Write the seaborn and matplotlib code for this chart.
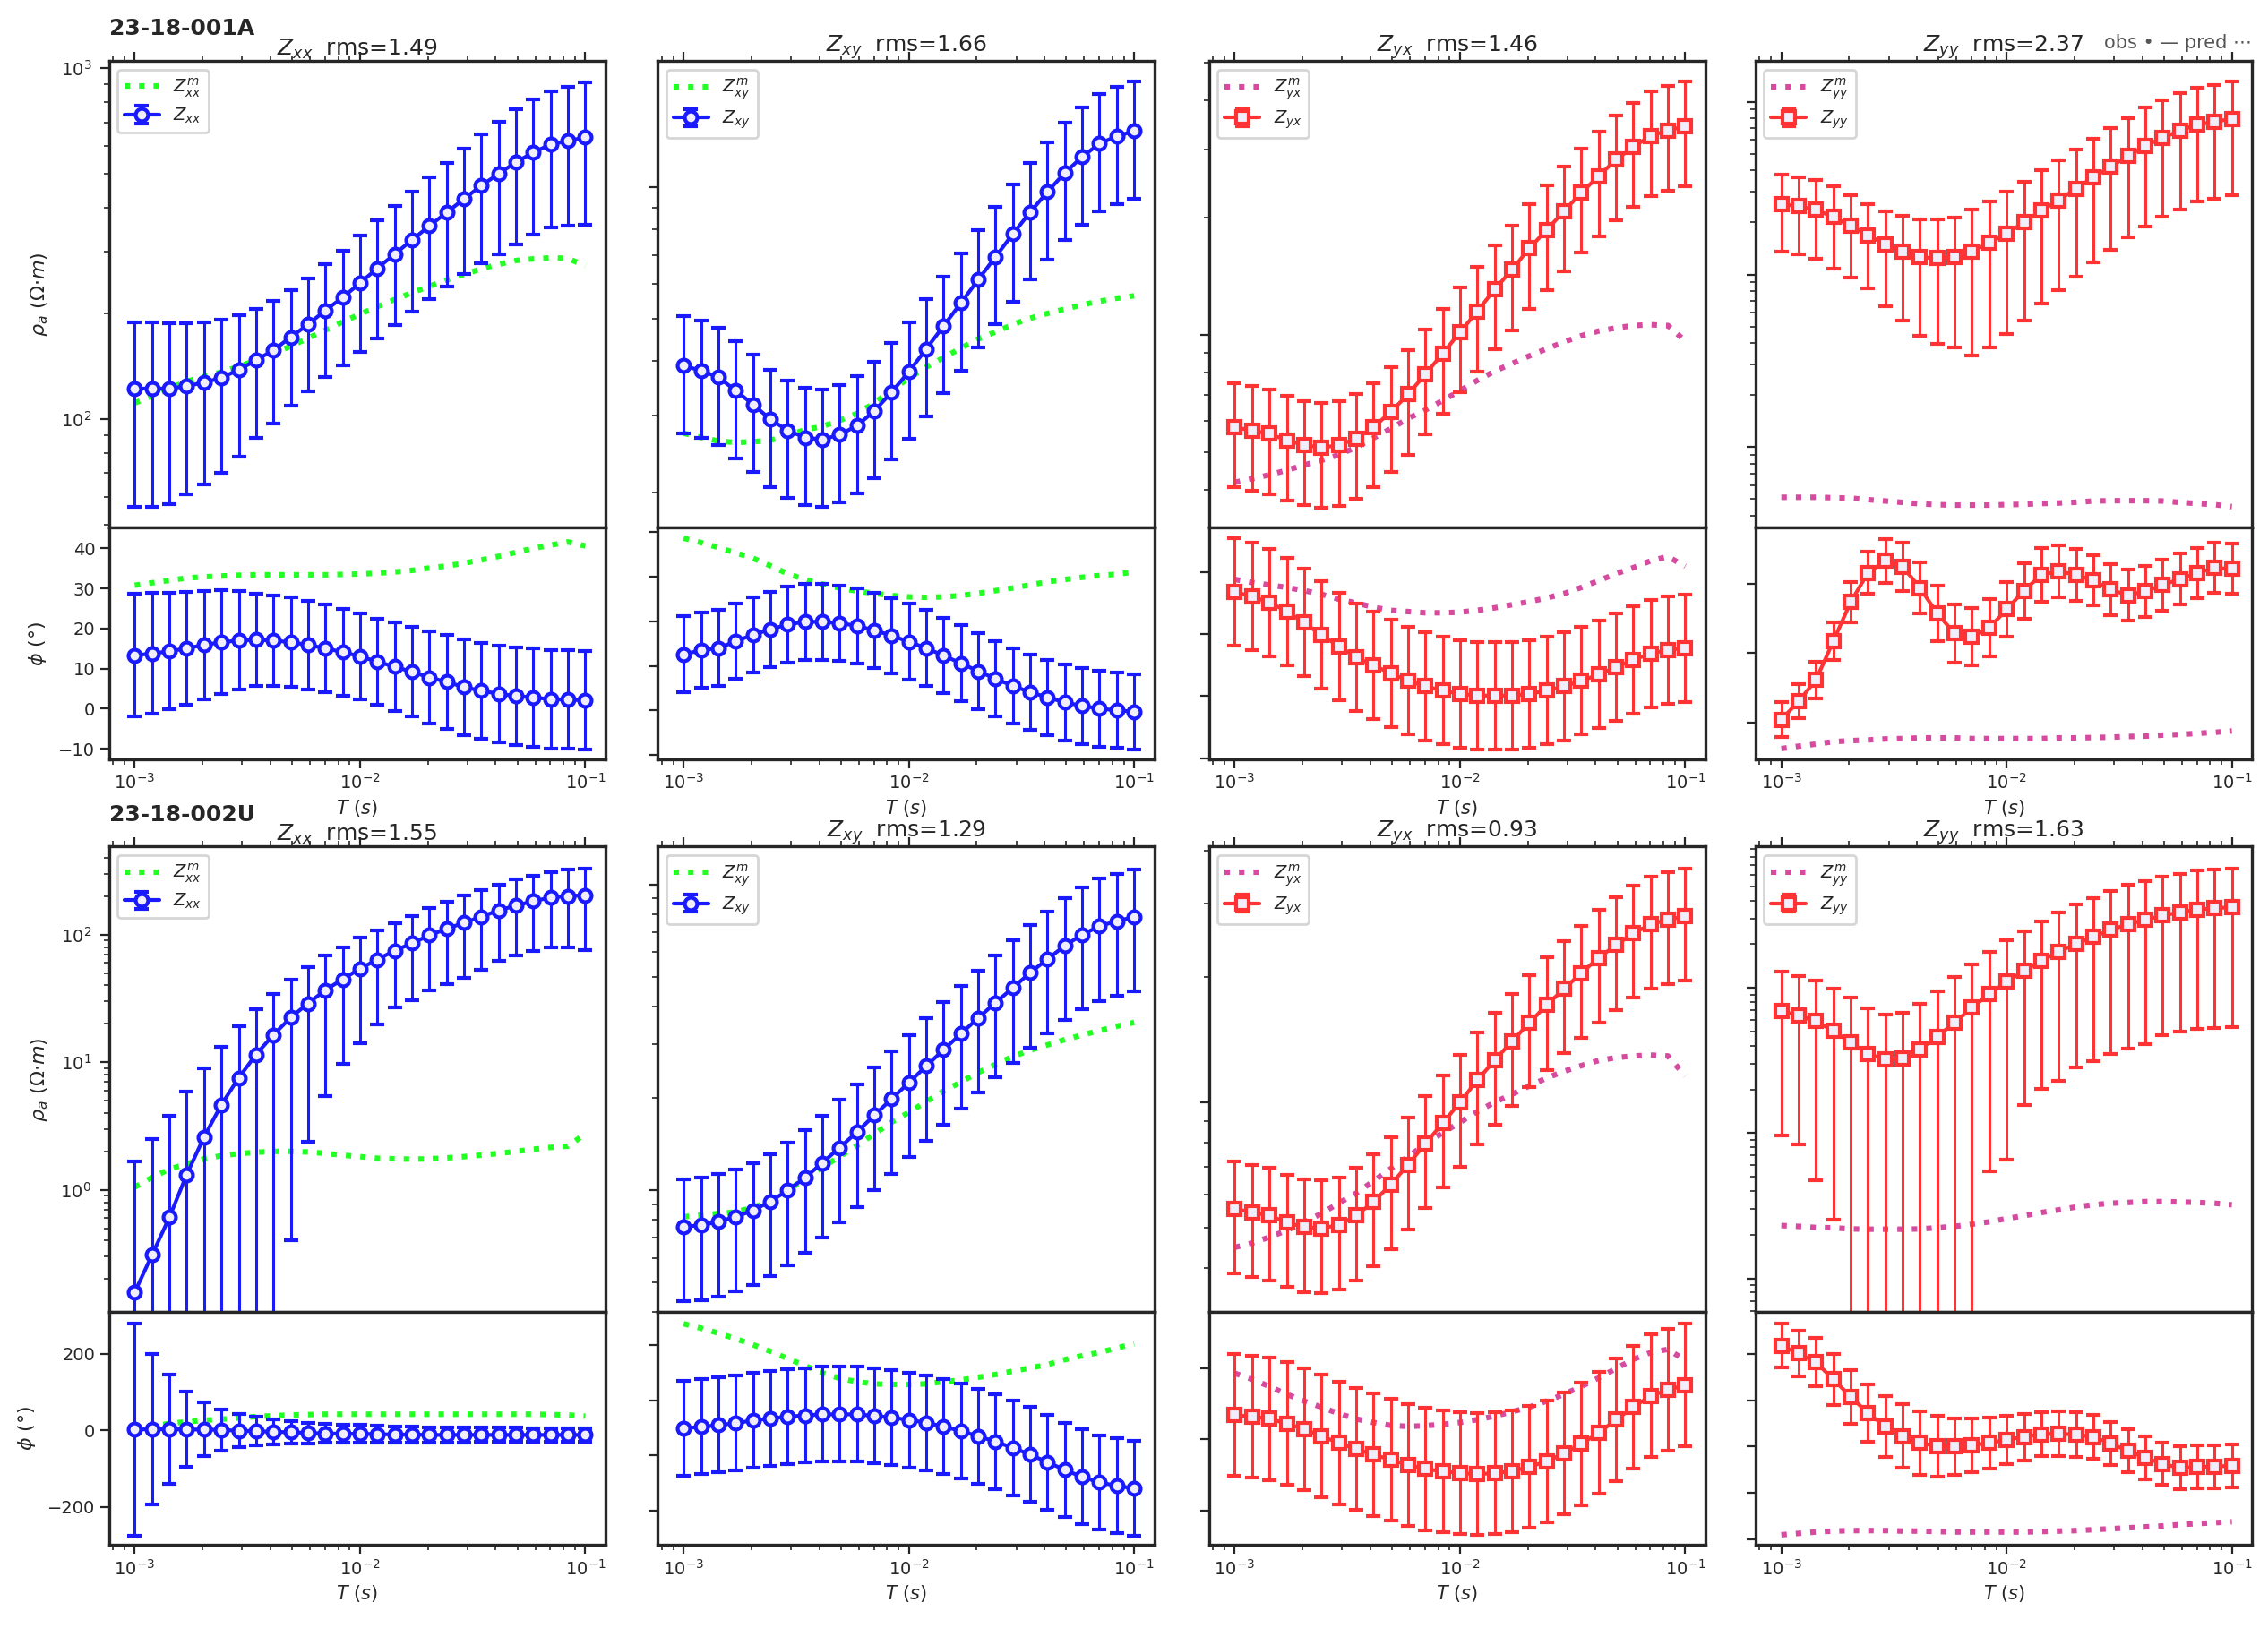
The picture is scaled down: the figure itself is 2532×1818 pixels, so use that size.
import numpy as np
import matplotlib
matplotlib.use("Agg")
import matplotlib.pyplot as plt
import seaborn as sns

# periods: 27 points, 1 ms .. 100 ms
PERIODS = np.logspace(-3, -1, 27)
COMPONENTS = ["xx", "xy", "yx", "yy"]
STATIONS = ["23-18-001A", "23-18-002U"]
RMS_A = [1.49, 1.66, 1.46, 2.37]
RMS_U = [1.55, 1.29, 0.93, 1.63]

# ---------------- station 23-18-001A ----------------
A_XX_RHO = [122, 122, 122, 124, 127, 131, 138, 147, 157, 171, 186, 204, 222, 244, 269, 295, 324, 355, 388, 424, 463, 500, 540, 575, 607, 621, 635]
A_XX_RHO_ERR = [66, 66, 65, 63, 62, 61, 60, 59, 60, 62, 66, 72, 80, 89, 99, 110, 122, 135, 150, 165, 185, 205, 225, 240, 255, 265, 277]
A_XX_RHO_PRED = [111, 116, 122, 128, 132, 136, 141, 147, 154, 161, 170, 179, 189, 199, 209, 219, 229, 239, 249, 258, 268, 276, 283, 286, 288, 287, 273]
A_XX_PHI = [13.3, 13.8, 14.3, 15.1, 15.9, 16.6, 17.0, 17.2, 17.0, 16.6, 15.9, 15.1, 14.1, 13.1, 11.7, 10.5, 9.2, 7.8, 6.7, 5.4, 4.5, 3.7, 3.2, 2.8, 2.4, 2.3, 2.1]
A_XX_PHI_ERR = [15.3, 15, 14.5, 14, 13.5, 13, 12.3, 11.5, 11.3, 11.1, 11, 10.9, 10.8, 10.7, 10.8, 11, 11.2, 11.5, 11.7, 11.9, 12, 12.1, 12.2, 12.2, 12.3, 12.3, 12.3]
A_XX_PHI_PRED = [30.8, 31.4, 32.0, 32.6, 32.9, 33.1, 33.3, 33.4, 33.4, 33.4, 33.4, 33.4, 33.5, 33.6, 33.8, 34.1, 34.5, 35.1, 35.6, 36.3, 37.1, 38.0, 39.0, 40.0, 40.8, 41.6, 40.6]

A_XY_RHO = [39.0, 38.0, 36.7, 34.2, 31.8, 29.4, 27.7, 26.7, 26.4, 27.1, 28.4, 30.7, 33.9, 37.8, 42.6, 48.1, 54.3, 61.4, 69.3, 78.2, 87.7, 97.7, 108, 117.5, 126, 131, 134.6]
A_XY_RHO_ERR = 0.3
A_XY_RHO_PRED = [27.3, 26.7, 26.2, 26.0, 26.1, 26.3, 27.0, 27.8, 28.3, 29.2, 30.3, 32.0, 34.3, 36.5, 38.7, 40.7, 42.8, 44.9, 46.6, 48.5, 50.1, 51.4, 52.6, 53.8, 54.8, 55.7, 56.4]
A_XY_PHI = [12.6, 13.5, 14.0, 15.5, 17.0, 18.2, 19.3, 19.9, 19.9, 19.6, 19.0, 18.0, 16.8, 15.4, 14.0, 12.3, 10.6, 8.8, 7.1, 5.5, 4.1, 2.9, 1.8, 1.0, 0.4, 0.0, -0.3]
A_XY_PHI_ERR = 8.5
A_XY_PHI_PRED = [38.7, 37.7, 36.6, 35.4, 34.2, 32.5, 30.7, 29.4, 28.4, 27.5, 26.8, 26.3, 25.8, 25.5, 25.4, 25.5, 25.8, 26.3, 26.9, 27.5, 28.2, 28.9, 29.4, 29.9, 30.3, 30.6, 31.1]

A_YX_RHO = [57.9, 56.8, 55.7, 53.6, 52.1, 51.4, 52.0, 54.2, 57.9, 63.4, 70.3, 79.3, 89.6, 101.6, 115, 131, 147, 167, 186, 208, 232, 256, 282, 304, 325, 335, 344]
A_YX_RHO_ERR = 0.3
A_YX_RHO_PRED = [41.8, 42.7, 43.7, 44.9, 46.3, 47.6, 49.2, 51.4, 54.3, 57.4, 61.0, 64.1, 67.8, 71.9, 76.4, 80.7, 84.4, 88.3, 92.1, 95.9, 99.5, 102.3, 104.2, 105.7, 106.2, 105.7, 96.4]
A_YX_PHI = [26.9, 26.1, 25.2, 23.7, 21.9, 19.9, 18.1, 16.3, 15.0, 13.7, 12.5, 11.6, 10.9, 10.4, 10.1, 10.1, 10.1, 10.4, 10.9, 11.6, 12.5, 13.5, 14.7, 15.9, 16.9, 17.5, 17.8]
A_YX_PHI_ERR = 8.7
A_YX_PHI_PRED = [28.9, 28.4, 28.0, 27.6, 27.1, 26.5, 25.7, 25.1, 24.4, 23.9, 23.7, 23.5, 23.5, 23.6, 23.9, 24.3, 24.8, 25.3, 25.9, 26.6, 27.6, 28.7, 29.8, 30.8, 31.9, 32.6, 31.0]

A_YY_RHO = [256, 248, 237, 215, 191, 169, 149, 136, 126, 124, 126, 136, 152, 173, 200, 235, 269, 314, 365, 421, 484, 556, 617, 681, 738, 766, 796]
A_YY_RHO_ERR = [.47, .47, .48, .5, .5, .51, .56, .6, .65, .68, .7, .75, .75, .74, .73, .71, .7, .69, .68, .67, .66, .66, .65, .65, .64, .64, .64]
A_YY_RHO_PRED = [5.13, 5.13, 5.13, 5.10, 5.07, 4.97, 4.88, 4.79, 4.70, 4.65, 4.62, 4.62, 4.62, 4.65, 4.67, 4.72, 4.75, 4.80, 4.88, 4.90, 4.90, 4.90, 4.88, 4.79, 4.72, 4.65, 4.53]
A_YY_PHI = [0.8, 6.1, 12.3, 23.5, 34.8, 43.3, 46.7, 45.1, 38.9, 31.5, 25.7, 24.7, 27.3, 32.7, 38.1, 42.7, 43.7, 42.7, 41.1, 38.4, 36.8, 37.9, 39.7, 41.5, 43.2, 44.7, 44.4]
A_YY_PHI_ERR = [5, 5, 5.3, 5.5, 5.8, 6, 6.4, 7, 7.5, 8, 8.3, 8.3, 8.3, 8, 8, 7.7, 7.5, 7.5, 7.3, 7.3, 7.3, 7.3, 7.3, 7.3, 7.3, 7.3, 7.3]
A_YY_PHI_PRED = [-7.6, -6.9, -6.3, -5.6, -5.3, -5.1, -4.8, -4.7, -4.5, -4.5, -4.5, -4.7, -4.7, -4.7, -4.7, -4.7, -4.5, -4.5, -4.4, -4.3, -4.1, -4.0, -3.7, -3.5, -3.2, -2.9, -2.5]

# ---------------- station 23-18-002U ----------------
U_XX_RHO = [0.158, 0.31, 0.61, 1.32, 2.6, 4.65, 7.55, 11.5, 16.4, 22.4, 28.9, 36.8, 44.7, 54.2, 63.7, 75, 85.5, 98.8, 111, 124, 138, 155, 169, 183, 195, 201, 203]
U_XX_RHO_ERR = [1.52, 2.2, 3.2, 4.6, 6.4, 8.5, 11.5, 14.5, 18, 22, 26.5, 31.4, 35, 40, 44, 48, 55, 62, 70, 78, 85, 93, 100, 108, 115, 122, 127]
U_XX_RHO_PRED = [1.05, 1.25, 1.45, 1.6, 1.75, 1.85, 1.92, 1.97, 2.0, 2.0, 1.98, 1.93, 1.87, 1.82, 1.77, 1.75, 1.74, 1.75, 1.78, 1.82, 1.87, 1.93, 2.0, 2.08, 2.15, 2.2, 2.75]
U_XX_PHI = [2, 3, 3, 2, 2, 1, -1, -2, -4, -5, -7, -8, -9, -9, -10, -11, -11, -12, -12, -12, -12, -12, -12, -12, -12, -12, -12]
U_XX_PHI_ERR = [276, 197, 142, 98, 70, 54, 43, 37, 32, 29, 27, 25, 24, 23, 22, 21, 21, 20, 20, 20, 19, 19, 19, 18, 18, 18, 18]
U_XX_PHI_PRED = [2, 10, 18, 22, 26, 29, 32, 36, 38, 40, 41, 42, 42, 42, 42, 42, 42, 42, 42, 42, 42, 42, 42, 42, 41, 40, 37]

U_XY_RHO = [0.76, 0.77, 0.79, 0.82, 0.86, 0.92, 1.0, 1.10, 1.23, 1.38, 1.55, 1.76, 1.99, 2.25, 2.55, 2.88, 3.25, 3.66, 4.11, 4.59, 5.15, 5.70, 6.31, 6.85, 7.31, 7.59, 7.83]
U_XY_RHO_ERR = 0.43
U_XY_RHO_PRED = [0.82, 0.83, 0.84, 0.85, 0.88, 0.92, 1.0, 1.09, 1.19, 1.29, 1.40, 1.53, 1.67, 1.80, 1.95, 2.11, 2.26, 2.43, 2.58, 2.74, 2.87, 2.99, 3.11, 3.22, 3.33, 3.44, 3.54]
U_XY_PHI = [49.6, 52, 55.4, 58.8, 63.8, 67.2, 70.6, 73, 74.8, 74.8, 74.8, 72.2, 68.9, 64.7, 59.6, 52.9, 44.5, 35.3, 25.2, 14.3, 1.7, -11.8, -26, -38.6, -48.7, -54.6, -59.6]
U_XY_PHI_ERR = 86
U_XY_PHI_PRED = [239, 231, 222, 212, 201, 189, 176, 163, 150, 140, 134, 130, 129, 129, 130, 134, 137, 142, 147, 153, 159, 165, 174, 181, 187, 195, 203]

U_YX_RHO = [0.555, 0.545, 0.535, 0.515, 0.502, 0.499, 0.508, 0.535, 0.577, 0.635, 0.708, 0.796, 0.891, 1.0, 1.13, 1.26, 1.40, 1.55, 1.71, 1.87, 2.04, 2.22, 2.38, 2.54, 2.67, 2.74, 2.79]
U_YX_RHO_ERR = 0.3
U_YX_RHO_PRED = [0.449, 0.46, 0.475, 0.493, 0.516, 0.541, 0.573, 0.605, 0.647, 0.693, 0.74, 0.794, 0.845, 0.895, 0.95, 1.0, 1.045, 1.094, 1.143, 1.186, 1.224, 1.259, 1.279, 1.291, 1.297, 1.291, 1.156]
U_YX_PHI = [67.6, 63.7, 57.2, 44.2, 28.6, 9.1, -10.4, -27.3, -42.9, -57.2, -71.5, -83.2, -89.7, -94.9, -97.5, -94.9, -89.7, -76.7, -62.4, -39, -13, 18.2, 54.6, 89.7, 122, 138, 152]
U_YX_PHI_ERR = 171
U_YX_PHI_PRED = [185, 168, 148, 126, 107, 90, 72, 57, 47, 39, 36, 38, 42, 47, 55, 65, 77, 90, 107, 126, 148, 172, 198, 224, 243, 252, 221]

U_YY_RHO = [69.2, 64.4, 58.9, 50.5, 42.1, 35.2, 32.1, 32.7, 37.7, 46.2, 57.7, 72.9, 91, 110, 131, 154, 177, 201, 224, 251, 274, 294, 315, 331, 346, 354, 359]
U_YY_RHO_ERR = [.86, .87, .92, .95, 1.05, 1.05, 1.05, 1.05, 1.05, 1.05, 1.05, 1.0, .94, .94, .88, .87, .87, .86, .86, .86, .86, .86, .85, .85, .85, .85, .85]
U_YY_RHO_PRED = [2.31, 2.28, 2.24, 2.23, 2.19, 2.18, 2.18, 2.18, 2.19, 2.23, 2.28, 2.36, 2.45, 2.58, 2.70, 2.84, 2.96, 3.10, 3.21, 3.29, 3.33, 3.38, 3.38, 3.36, 3.33, 3.29, 3.21]
U_YY_PHI = [218, 201, 182, 145, 108, 72, 44, 23, 8, 1, 0, 3, 8, 15, 21, 27, 28, 26, 21, 7, -9, -24, -37, -46, -44, -43, -41]
U_YY_PHI_ERR = [48, 50, 52, 55, 58, 62, 66, 68, 68, 65, 60, 58, 55, 52, 50, 48, 48, 48, 48, 46, 46, 46, 46, 46, 46, 46, 46]
U_YY_PHI_PRED = [-190, -187, -184, -182, -181, -181, -181, -182, -182, -183, -184, -184, -184, -184, -184, -183, -182, -181, -179, -177, -175, -173, -171, -168, -166, -164, -162]

# axis limits per panel (rho, phi)
RHO_LIMS = [[(49, 1050), (16.6, 195), (32, 506), (3.43, 1724)],
            [(0.11, 490), (0.40, 13.3), (0.314, 4.1), (0.585, 940)]]
PHI_LIMS = [[(-12.6, 45.2), (-11, 41.1), (-0.2, 37.3), (-10.7, 56.4)],
            [(-299, 308), (-162, 260), (-296, 356), (-212, 290)]]

DATA = {
    0: [(A_XX_RHO, A_XX_RHO_ERR, A_XX_RHO_PRED, A_XX_PHI, A_XX_PHI_ERR, A_XX_PHI_PRED),
        (A_XY_RHO, A_XY_RHO_ERR, A_XY_RHO_PRED, A_XY_PHI, A_XY_PHI_ERR, A_XY_PHI_PRED),
        (A_YX_RHO, A_YX_RHO_ERR, A_YX_RHO_PRED, A_YX_PHI, A_YX_PHI_ERR, A_YX_PHI_PRED),
        (A_YY_RHO, A_YY_RHO_ERR, A_YY_RHO_PRED, A_YY_PHI, A_YY_PHI_ERR, A_YY_PHI_PRED)],
    1: [(U_XX_RHO, U_XX_RHO_ERR, U_XX_RHO_PRED, U_XX_PHI, U_XX_PHI_ERR, U_XX_PHI_PRED),
        (U_XY_RHO, U_XY_RHO_ERR, U_XY_RHO_PRED, U_XY_PHI, U_XY_PHI_ERR, U_XY_PHI_PRED),
        (U_YX_RHO, U_YX_RHO_ERR, U_YX_RHO_PRED, U_YX_PHI, U_YX_PHI_ERR, U_YX_PHI_PRED),
        (U_YY_RHO, U_YY_RHO_ERR, U_YY_RHO_PRED, U_YY_PHI, U_YY_PHI_ERR, U_YY_PHI_PRED)],
}
# rho errors given as a list of absolute values for these panels, else relative
ABS_RHO_ERR = {(0, 0), (1, 0)}

sns.set_style("ticks")
plt.rcParams["font.family"] = ["DejaVu Sans"]
plt.rcParams["mathtext.fontset"] = "dejavusans"

fig = plt.figure(figsize=(12.66, 9.09), dpi=200)

LEFTS = [0.048, 0.290, 0.533, 0.774]
WIDTH = 0.219
ROWS = [(0.676, 0.9626, 0.5336), (0.194, 0.480, 0.051)]  # boundary, top, bottom
XLIM = (10 ** -3.115, 10 ** -0.91)

for s, station in enumerate(STATIONS):
    mid, top, bot = ROWS[s]
    rms = RMS_A if s == 0 else RMS_U
    for c, comp in enumerate(COMPONENTS):
        rho, rho_err, rho_pred, phi, phi_err, phi_pred = DATA[s][c]
        rho = np.array(rho)
        if (s, c) in ABS_RHO_ERR:
            rerr = np.array(rho_err)
        else:
            rerr = np.array(rho_err) * rho
        blue = comp in ("xx", "xy")
        col = "#1a1aff" if blue else "#ff3333"
        pcol = "#22ff22" if blue else "#d64ba0"
        mk = "o" if blue else "s"

        ax_r = fig.add_axes([LEFTS[c], mid, WIDTH, top - mid])
        ax_p = fig.add_axes([LEFTS[c], bot, WIDTH, mid - bot], sharex=ax_r)

        for ax, obs, err, pred in [(ax_r, rho, rerr, rho_pred), (ax_p, phi, phi_err, phi_pred)]:
            sns.lineplot(x=PERIODS, y=pred, ax=ax, color=pcol, linestyle=":", linewidth=2.2,
                         label=rf"$Z^m_{{{comp}}}$")
            ax.errorbar(PERIODS, obs, yerr=err, color=col, marker=mk, markersize=5,
                        markerfacecolor="#f0eefa", markeredgewidth=1.5, linewidth=1.5,
                        elinewidth=1.1, capsize=3, capthick=1.1, label=rf"$Z_{{{comp}}}$")

        ax_r.set_xscale("log")
        ax_r.set_yscale("log")
        ax_r.set_xlim(*XLIM)
        ax_r.set_ylim(*RHO_LIMS[s][c])
        ax_p.set_ylim(*PHI_LIMS[s][c])

        ax_r.tick_params(axis="x", which="both", top=True, bottom=True, labelbottom=False)
        ax_r.tick_params(labelsize=7)
        ax_p.tick_params(labelsize=7, pad=2)
        if c > 0:
            ax_r.tick_params(axis="y", which="both", labelleft=False)
            ax_p.tick_params(axis="y", which="both", labelleft=False)
        else:
            ax_r.set_ylabel(r"$\rho_a$ $(\Omega{\cdot}m)$", fontsize=8)
            ax_p.set_ylabel(r"$\phi$ $(°)$", fontsize=8)
        ax_p.set_xlabel(r"$T\ (s)$", fontsize=7.5, labelpad=2)
        ax_p.get_legend().remove()
        ax_r.legend(loc="upper left", fontsize=7, handlelength=2, borderpad=0.4,
                    labelspacing=0.4, framealpha=0.8)
        ax_r.set_title(rf"$Z_{{{comp}}}$  rms={rms[c]:.2f}", fontsize=9, pad=0.5)
        for ax in (ax_r, ax_p):
            for sp in ax.spines.values():
                sp.set_linewidth(1.2)

    fig.text(0.048, top + 0.013, station, fontsize=9, fontweight="bold", ha="left", va="bottom")

fig.text(0.993, 0.968, "obs \u2022 \u2014 pred \u22ef", fontsize=7.5, color="#555555",
         ha="right", va="bottom")

fig.savefig("out.png", dpi=200)
